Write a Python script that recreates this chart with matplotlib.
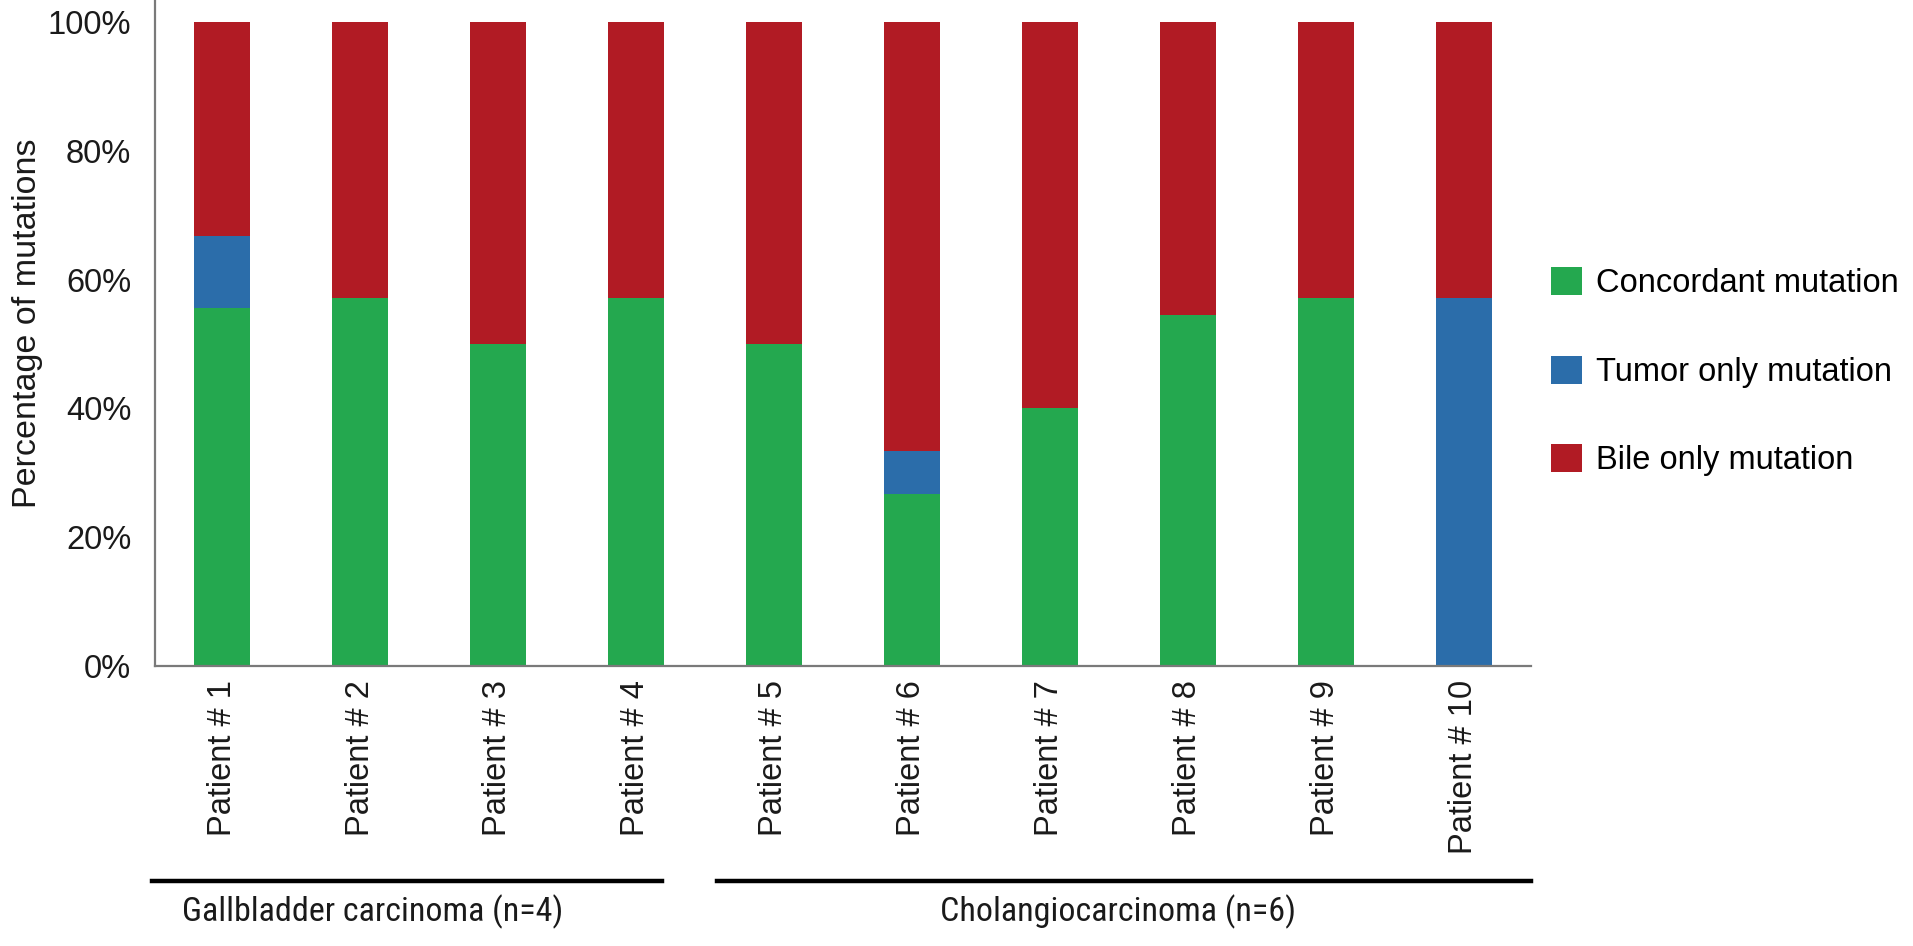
import matplotlib
matplotlib.use("Agg")
import matplotlib.pyplot as plt
from matplotlib.patches import Patch
from matplotlib.lines import Line2D
from matplotlib.transforms import blended_transform_factory
from matplotlib import font_manager as fm
import numpy as np

# ---- data ----
patients = ["Patient # 1", "Patient # 2", "Patient # 3", "Patient # 4", "Patient # 5",
            "Patient # 6", "Patient # 7", "Patient # 8", "Patient # 9", "Patient # 10"]
concordant = [55.6, 57.1, 50.0, 57.1, 50.0, 26.7, 40.0, 54.5, 57.1, 0.0]
tumor_only = [11.1, 0.0, 0.0, 0.0, 0.0, 6.7, 0.0, 0.0, 0.0, 57.1]
bile_only = [33.3, 42.9, 50.0, 42.9, 50.0, 66.6, 60.0, 45.5, 42.9, 42.9]
series_names = ["Concordant mutation", "Tumor only mutation", "Bile only mutation"]
yticks = [0, 20, 40, 60, 80, 100]
ytick_labels = ["0%", "20%", "40%", "60%", "80%", "100%"]
groups = ["Gallbladder carcinoma (n=4)", "Cholangiocarcinoma (n=6)"]

colors = ["#24A84F", "#2B6DAA", "#B11B24"]

plt.rcParams['font.family'] = ['Liberation Sans', 'DejaVu Sans']

# find a condensed sans font for the group labels, if one is installed
def pick_condensed():
    prefs = ["Liberation Sans Narrow", "Arial Narrow", "Roboto Condensed",
             "Noto Sans Condensed", "Open Sans Condensed", "DejaVu Sans Condensed"]
    cands = []
    for f in fm.fontManager.ttflist:
        if f.style != "normal":
            continue
        w = f.weight
        if isinstance(w, str):
            w = {"normal": 400, "regular": 400, "book": 400}.get(w.lower(), 700)
        if w != 400:
            continue
        fname = f.fname.lower()
        if ("narrow" in f.name.lower() or "condensed" in f.name.lower()
                or "narrow" in fname or ("condensed" in fname and "semi" not in fname
                                         and "extra" not in fname)
                or f.stretch == "condensed"):
            cands.append(f)
    for p in prefs:
        for f in cands:
            if f.name == p or p.replace(" ", "").lower() in f.fname.lower().replace("-", ""):
                return fm.FontProperties(fname=f.fname)
    if cands:
        return fm.FontProperties(fname=cands[0].fname)
    return None

fig = plt.figure(figsize=(19.13, 9.46), dpi=100)
ax = fig.add_axes([0.081, 0.296, 0.7193, 0.704])

x = np.arange(len(patients))
w = 0.40
c = np.array(concordant)
t = np.array(tumor_only)
b = np.array(bile_only)
ax.bar(x, c, width=w, color=colors[0], label=series_names[0])
ax.bar(x, t, width=w, bottom=c, color=colors[1], label=series_names[1])
ax.bar(x, b, width=w, bottom=c + t, color=colors[2], label=series_names[2])

ax.set_xlim(-0.486, 9.486)
ax.set_ylim(0, 103.4)

for s in ["top", "right"]:
    ax.spines[s].set_visible(False)
for s in ["left", "bottom"]:
    ax.spines[s].set_color("#7a7a7a")
    ax.spines[s].set_linewidth(1.6)

ax.set_yticks(yticks)
ax.set_yticklabels(ytick_labels, fontsize=23.5, color="#1a1a1a")
ax.set_xticks(x)
ax.set_xticklabels(patients, rotation=90, fontsize=23.5, color="#1a1a1a")
ax.tick_params(axis="y", length=0, pad=17)
ax.tick_params(axis="x", length=0, pad=10)

ax.set_ylabel("Percentage of mutations", fontsize=24.5, color="#1a1a1a")
ax.yaxis.set_label_coords(-0.081, 0.515)

# legend
handles = [Patch(facecolor=col, edgecolor="none") for col in colors]
fig.legend(handles, series_names, loc="center left", bbox_to_anchor=(0.811, 0.607),
           frameon=False, fontsize=23.5, handlelength=0.95, handleheight=0.95,
           handletextpad=0.4, labelspacing=1.72, borderpad=0, borderaxespad=0)

# group lines and labels
tr = blended_transform_factory(ax.transData, fig.transFigure)
line_y = 0.0687
fig.add_artist(Line2D([-0.51, 3.19], [line_y, line_y], transform=tr, color="black", lw=3.2))
fig.add_artist(Line2D([3.59, 9.486], [line_y, line_y], transform=tr, color="black", lw=3.2))

gprop = pick_condensed()
if gprop is None:
    gprop = fm.FontProperties(family=['Liberation Sans', 'DejaVu Sans'])
gprop.set_size(27)
t1 = fig.text(1.09, 0.036, groups[0], transform=tr, ha="center", va="center",
              fontproperties=gprop, color="#1a1a1a")
t2 = fig.text(6.49, 0.036, groups[1], transform=tr, ha="center", va="center",
              fontproperties=gprop, color="#1a1a1a")

# fit the group-label size to the width seen in the reference (~381 px)
fig.canvas.draw()
r = fig.canvas.get_renderer()
wpx = t1.get_window_extent(r).width
newsize = 27 * 381.0 / wpx
newsize = min(newsize, 29)
t1.set_fontsize(newsize)
t2.set_fontsize(newsize)

fig.savefig("out.png", dpi=100)
